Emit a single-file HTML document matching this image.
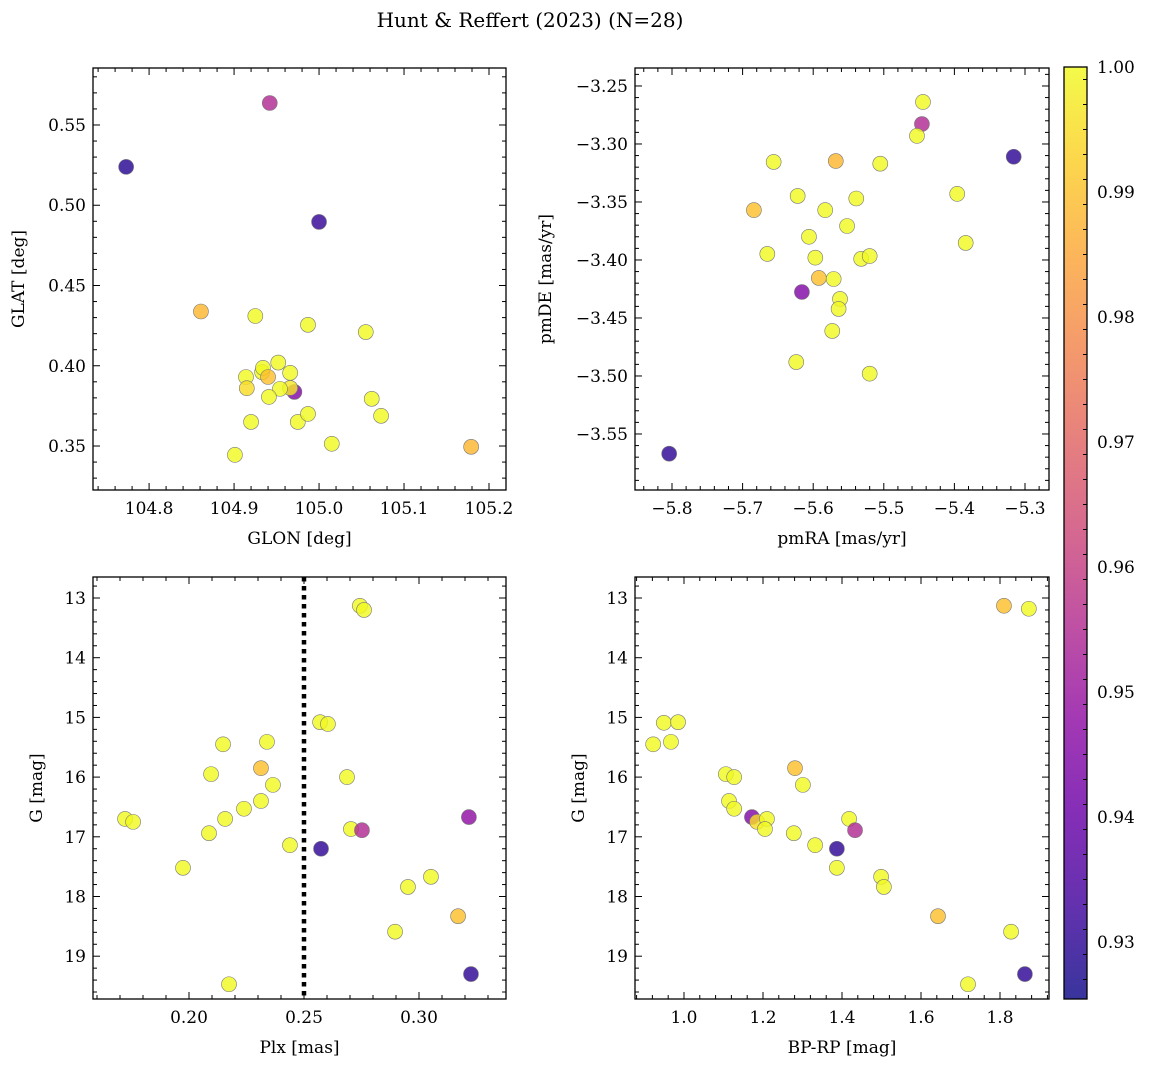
<!DOCTYPE html>
<html><head><meta charset="utf-8"><style>
body{margin:0;background:#fff}
svg{display:block;font-family:"DejaVu Serif","Liberation Serif",serif}
</style></head><body>
<svg id="fig" width="1149" height="1067" viewBox="0 0 1149 1067">
<defs>
<linearGradient id="plasma" x1="0" y1="1" x2="0" y2="0">
<stop offset="0" stop-color="#0d0887"/><stop offset="0.1" stop-color="#41049d"/><stop offset="0.2" stop-color="#6a00a8"/><stop offset="0.3" stop-color="#8f0da4"/><stop offset="0.4" stop-color="#b12a90"/><stop offset="0.5" stop-color="#cc4778"/><stop offset="0.6" stop-color="#e16462"/><stop offset="0.7" stop-color="#f2844b"/><stop offset="0.8" stop-color="#fca636"/><stop offset="0.9" stop-color="#fcce25"/><stop offset="1" stop-color="#f0f921"/>
</linearGradient>
</defs>
<text x="530" y="27" font-size="20" text-anchor="middle">Hunt &amp; Reffert (2023) (N=28)</text>
</svg>
<script>
// Panel 1: GLON vs GLAT
const glonA=[104.773,104.942,105.0,104.861,104.925,104.987,105.055,104.914,104.915,104.933,104.934,104.940,104.952,104.966,104.971,104.966,104.954,104.941,104.920,104.975,104.987,104.901,105.062,105.073,105.015,105.179];
const glatA=[0.5239,0.5637,0.4896,0.4338,0.431,0.4255,0.421,0.393,0.386,0.396,0.3987,0.393,0.402,0.3956,0.3837,0.3862,0.3856,0.3806,0.365,0.365,0.370,0.3445,0.3794,0.3688,0.3514,0.3495];
const probA=[0.929,0.955,0.931,0.988,1,1,1,1,0.995,1,1,0.99,1,1,0.945,0.997,1,1,1,1,1,1,1,1,1,0.988];
// Panel 2: pmRA vs pmDE
const pmraB=[-5.4445,-5.446,-5.453,-5.316,-5.656,-5.568,-5.505,-5.622,-5.396,-5.539,-5.684,-5.583,-5.552,-5.606,-5.384,-5.665,-5.597,-5.532,-5.520,-5.592,-5.571,-5.616,-5.562,-5.564,-5.573,-5.624,-5.520,-5.804];
const pmdeB=[-3.2638,-3.2828,-3.293,-3.311,-3.3155,-3.3147,-3.317,-3.3448,-3.343,-3.347,-3.357,-3.357,-3.3707,-3.380,-3.3853,-3.3948,-3.398,-3.399,-3.3966,-3.4155,-3.4164,-3.4276,-3.4336,-3.4422,-3.4612,-3.488,-3.498,-3.567];
const probB=[1,0.955,1,0.93,1,0.988,1,1,1,1,0.99,1,1,1,1,1,1,1,1,0.99,1,0.945,1,1,1,1,1,0.93];
// Panel 3: Plx vs G
const plxC=[0.2743,0.2761,0.2570,0.2604,0.2148,0.2339,0.2096,0.2313,0.2687,0.2365,0.2239,0.2313,0.1722,0.1757,0.2157,0.3217,0.2704,0.2752,0.2087,0.2439,0.2574,0.1974,0.3052,0.2952,0.3170,0.2896,0.3226,0.2174];
const gC=[13.13,13.20,15.08,15.11,15.45,15.41,15.95,15.85,16.00,16.13,16.53,16.40,16.70,16.75,16.70,16.67,16.87,16.89,16.94,17.14,17.20,17.52,17.67,17.84,18.33,18.59,19.30,19.47];
const probC=[1,1,1,1,1,1,1,0.99,1,1,1,1,1,1,1,0.948,1,0.955,1,1,0.93,1,1,1,0.99,1,0.93,1];
// Panel 4: BP-RP vs G
const bprpD=[1.810,1.873,0.949,0.985,0.922,0.967,1.106,1.127,1.281,1.301,1.114,1.127,1.172,1.185,1.210,1.205,1.418,1.433,1.278,1.332,1.387,1.387,1.499,1.506,1.643,1.828,1.863,1.719];
const gD=[13.13,13.18,15.09,15.08,15.45,15.41,15.95,16.00,15.85,16.13,16.40,16.53,16.67,16.75,16.70,16.87,16.70,16.89,16.94,17.14,17.20,17.52,17.67,17.84,18.33,18.59,19.30,19.47];
const probD=[0.99,1,1,1,1,1,1,1,0.99,1,1,1,0.945,0.995,1,1,1,0.955,1,1,0.93,1,1,1,0.99,1,0.93,1];
const ticksA_x=[104.8,104.9,105.0,105.1,105.2], ticksA_y=[0.35,0.40,0.45,0.50,0.55];
const ticksB_x=[-5.8,-5.7,-5.6,-5.5,-5.4,-5.3], ticksB_y=[-3.55,-3.50,-3.45,-3.40,-3.35,-3.30,-3.25];
const ticksC_x=[0.20,0.25,0.30], ticksG=[13,14,15,16,17,18,19];
const ticksD_x=[1.0,1.2,1.4,1.6,1.8];
const cbTicks=[0.93,0.94,0.95,0.96,0.97,0.98,0.99,1.00];
const cMin=0.92544,cMax=1.0;

const NS="http://www.w3.org/2000/svg";const svg=document.getElementById('fig');
function mk(tag,at,parent){const e=document.createElementNS(NS,tag);for(const k in at)e.setAttribute(k,at[k]);(parent||svg).appendChild(e);return e;}
const stops=["#0d0887","#41049d","#6a00a8","#8f0da4","#b12a90","#cc4778","#e16462","#f2844b","#fca636","#fcce25","#f0f921"];
function hx(c){return [1,3,5].map(i=>parseInt(c.substr(i,2),16));}
function plasma(v){let t=Math.max(0,Math.min(1,(v-cMin)/(cMax-cMin)))*10;let i=Math.min(9,Math.floor(t));let f=t-i;const a=hx(stops[i]),b=hx(stops[i+1]);return 'rgb('+a.map((x,k)=>Math.round(x+(b[k]-x)*f)).join(',')+')';}
function fmt(v,d){return (v<0?'\u2212':'')+Math.abs(v).toFixed(d);}

function panel(name,L,T,R,B,xd,yd,inv,xt,yt,xdec,ydec,xs,ys,cs,xl,yl,ylx){
  const g=mk('g',{});
  
  
  const X=v=>L+(v-xd[0])/(xd[1]-xd[0])*(R-L);
  const Y=inv?(v=>T+(v-yd[0])/(yd[1]-yd[0])*(B-T)):(v=>B-(v-yd[0])/(yd[1]-yd[0])*(B-T));
  const pts=mk('g',{},g);
  
  
  for(let i=0;i<xs.length;i++){const c=mk('circle',{cx:X(xs[i]),cy:Y(ys[i]),r:7.5,fill:plasma(cs[i]),'fill-opacity':0.82,stroke:'#777','stroke-width':0.6},pts);
    
    }
  mk('rect',{x:L,y:T,width:R-L,height:B-T,fill:'none',stroke:'#000','stroke-width':1.3},g);
  const stepx=xt[1]-xt[0], stepy=yt[1]-yt[0];
  for(let v=xt[0]-stepx;v<=xt[xt.length-1]+stepx+1e-9;v+=stepx/5){const x=X(v);if(x<L-0.1||x>R+0.1)continue;const mj=Math.abs(Math.round((v-xt[0])/stepx)*stepx-(v-xt[0]))<stepx/50;const l=mj?7:4;
    mk('line',{x1:x,y1:B,x2:x,y2:B-l,stroke:'#000','stroke-width':1},g);mk('line',{x1:x,y1:T,x2:x,y2:T+l,stroke:'#000','stroke-width':1},g);}
  for(let v=yt[0]-stepy;v<=yt[yt.length-1]+stepy+1e-9;v+=stepy/5){const y=Y(v);if(y<T-0.1||y>B+0.1)continue;const mj=Math.abs(Math.round((v-yt[0])/stepy)*stepy-(v-yt[0]))<stepy/50;const l=mj?7:4;
    mk('line',{x1:L,y1:y,x2:L+l,y2:y,stroke:'#000','stroke-width':1},g);mk('line',{x1:R,y1:y,x2:R-l,y2:y,stroke:'#000','stroke-width':1},g);}
  xt.forEach(v=>{const t=mk('text',{x:X(v),y:B+24,'font-size':17,'text-anchor':'middle'},g);t.textContent=fmt(v,xdec);
    
    });
  yt.forEach(v=>{const t=mk('text',{x:L-7,y:Y(v)+6,'font-size':17,'text-anchor':'end'},g);t.textContent=fmt(v,ydec);
    
    });
  const xa=mk('text',{x:(L+R)/2,y:B+54,'font-size':17,'text-anchor':'middle'},g);xa.textContent=xl;
  
  
  const ya=mk('text',{x:ylx,y:(T+B)/2,'font-size':17,'text-anchor':'middle',transform:'rotate(-90 '+ylx+' '+(T+B)/2+')'},g);ya.textContent=yl;
  
  
  return {X,Y,g};
}
panel('panel-glon-glat',93,68,506,490,[104.734,105.220],[0.3226,0.5855],false,ticksA_x,ticksA_y,1,2,glonA,glatA,probA,'GLON [deg]','GLAT [deg]',24);
panel('panel-pm',635,68,1049,490,[-5.8524,-5.2660],[-3.5983,-3.2345],false,ticksB_x,ticksB_y,1,2,pmraB,pmdeB,probB,'pmRA [mas/yr]','pmDE [mas/yr]',551);
const p3=panel('panel-plx-g',93,577,506,999,[0.15826,0.33783],[12.648,19.717],true,ticksC_x,ticksG,2,0,plxC,gC,probC,'Plx [mas]','G [mag]',42);
const vl=mk('line',{x1:p3.X(0.25),y1:577,x2:p3.X(0.25),y2:999,stroke:'#000','stroke-width':4.5,'stroke-dasharray':'4.5,4.5'},p3.g);


panel('panel-cmd',635,577,1049,999,[0.876,1.924],[12.648,19.717],true,ticksD_x,ticksG,1,0,bprpD,gD,probD,'BP-RP [mag]','G [mag]',584);
// colorbar
const cb=mk('g',{});


const cT=67,cB=999,cL=1064,cR=1087;
const CY=v=>cB-(v-cMin)/(cMax-cMin)*(cB-cT);
mk('rect',{x:cL,y:cT,width:cR-cL,height:cB-cT,fill:'url(#plasma)','fill-opacity':0.82},cb);
mk('rect',{x:cL,y:cT,width:cR-cL,height:cB-cT,fill:'none',stroke:'#000','stroke-width':1.3},cb);
for(let v=0.925;v<=1.0001;v+=0.002){const y=CY(v);if(y<cT-0.1||y>cB+0.1)continue;const mj=Math.abs(Math.round(v*100)-v*100)<0.02;
  mk('line',{x1:cR,y1:y,x2:cR-(mj?7:4),y2:y,stroke:'#000','stroke-width':1},cb);}
cbTicks.forEach(v=>{const t=mk('text',{x:cR+10,y:CY(v)+6,'font-size':17},cb);t.textContent=v.toFixed(2);
  
  });
</script>
</body></html>
